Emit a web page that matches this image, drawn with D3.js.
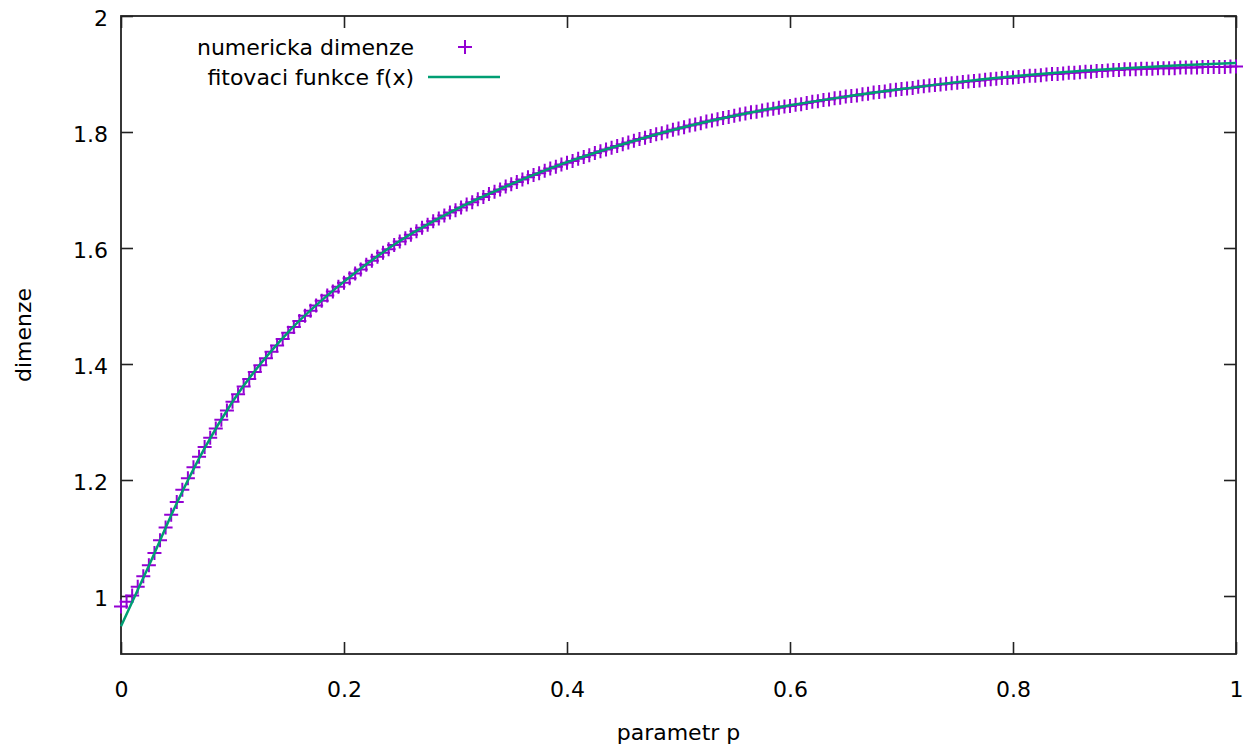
<!DOCTYPE html>
<html>
<head>
<meta charset="utf-8">
<script src="https://cdn.jsdelivr.net/npm/d3@7"></script>
<style>
  html, body { margin: 0; padding: 0; background: #fff; }
  svg { display: block; }
  text { font-family: "DejaVu Sans", Verdana, sans-serif; fill: #000; }
</style>
</head>
<body>
<svg id="chart" width="1243" height="747"></svg>
<script>
// ---- data ----
const pStart = 0;
const pStep = 0.005;
const dimValues = [
  0.982,0.990,1.001,1.016,1.034,1.053,1.074,1.096,1.118,1.140,
  1.162,1.183,1.203,1.222,1.240,1.257,1.273,1.289,1.304,1.320,
  1.335,1.348,1.361,1.374,1.386,1.398,1.410,1.421,1.432,1.443,
  1.454,1.464,1.474,1.483,1.492,1.501,1.509,1.518,1.525,1.533,
  1.540,1.548,1.556,1.563,1.571,1.578,1.585,1.592,1.598,1.605,
  1.611,1.617,1.623,1.629,1.635,1.640,1.646,1.651,1.656,1.661,
  1.665,1.670,1.675,1.679,1.684,1.688,1.693,1.697,1.701,1.706,
  1.710,1.714,1.718,1.722,1.726,1.729,1.733,1.737,1.740,1.744,
  1.747,1.750,1.754,1.757,1.760,1.764,1.767,1.770,1.773,1.776,
  1.779,1.782,1.785,1.788,1.790,1.793,1.796,1.798,1.801,1.804,
  1.806,1.808,1.811,1.813,1.815,1.818,1.820,1.822,1.824,1.826,
  1.828,1.830,1.832,1.834,1.835,1.837,1.839,1.840,1.842,1.844,
  1.845,1.847,1.848,1.850,1.852,1.853,1.855,1.856,1.858,1.859,
  1.861,1.862,1.863,1.865,1.866,1.868,1.869,1.870,1.872,1.873,
  1.874,1.875,1.876,1.878,1.879,1.880,1.881,1.882,1.883,1.884,
  1.885,1.886,1.887,1.888,1.889,1.890,1.891,1.892,1.893,1.893,
  1.894,1.895,1.896,1.897,1.897,1.898,1.899,1.900,1.900,1.901,
  1.902,1.902,1.903,1.904,1.904,1.905,1.905,1.906,1.907,1.907,
  1.908,1.908,1.908,1.909,1.909,1.909,1.910,1.910,1.910,1.910,
  1.911,1.911,1.911,1.911,1.912,1.912,1.912,1.912,1.912,1.913,
  1.913
];
const fitP   = [0, 0.025, 0.05, 0.075, 0.1, 0.15, 0.2, 0.25, 0.3, 0.35, 0.4, 0.45, 0.5, 0.55, 0.6, 0.65, 0.7, 0.75, 0.8, 0.85, 0.9, 0.95, 1.0];
const fitVal = [0.948, 1.052, 1.160, 1.255, 1.335, 1.455, 1.542, 1.612, 1.666, 1.710, 1.748, 1.779, 1.806, 1.828, 1.846, 1.861, 1.874, 1.886, 1.896, 1.904, 1.910, 1.915, 1.919];
const xTicks = [0, 0.2, 0.4, 0.6, 0.8, 1];
const yTicks = [1, 1.2, 1.4, 1.6, 1.8, 2];
const seriesNames = ["numericka dimenze", "fitovaci funkce f(x)"];
const xTitle = "parametr p";
const yTitle = "dimenze";

// ---- layout ----
const L = 121, R = 1236, T = 16, B = 654;
const FS = 22;
const colPts = "#9400D3", colFit = "#009E73";

const svg = d3.select("#chart");
svg.append("rect").attr("width", 1243).attr("height", 747).attr("fill", "#fff");

const x = d3.scaleLinear().domain([0, 1]).range([L, R]);
const y = d3.scaleLinear().domain([0.9, 2]).range([B, T]);
const fmt = d3.format("~g");

function styleAxis(g) {
  g.select(".domain").remove();
  g.selectAll(".tick line").attr("stroke", "#222").attr("stroke-width", 1.6);
  g.selectAll(".tick text").attr("font-size", FS).attr("font-family", "DejaVu Sans, Verdana, sans-serif").attr("fill", "#000");
}

svg.append("g").attr("transform", `translate(0,${B})`)
  .call(d3.axisBottom(x).tickValues(xTicks).tickFormat(fmt).tickSizeInner(-12).tickSizeOuter(0).tickPadding(27))
  .call(styleAxis);
svg.append("g").attr("transform", `translate(0,${T})`)
  .call(d3.axisTop(x).tickValues(xTicks).tickFormat("").tickSizeInner(-12).tickSizeOuter(0))
  .call(styleAxis);
const gl = svg.append("g").attr("transform", `translate(${L},0)`)
  .call(d3.axisLeft(y).tickValues(yTicks).tickFormat(fmt).tickSizeInner(-12).tickSizeOuter(0).tickPadding(13))
  .call(styleAxis);
gl.selectAll(".tick text").attr("dy", "0.45em");
svg.append("g").attr("transform", `translate(${R},0)`)
  .call(d3.axisRight(y).tickValues(yTicks).tickFormat("").tickSizeInner(-12).tickSizeOuter(0))
  .call(styleAxis);

// frame
svg.append("rect").attr("x", L).attr("y", T).attr("width", R - L).attr("height", B - T)
  .attr("fill", "none").attr("stroke", "#222").attr("stroke-width", 1.8);

// axis titles
svg.append("text").attr("x", (L + R) / 2).attr("y", 740).attr("text-anchor", "middle")
  .attr("font-size", FS).text(xTitle);
svg.append("text").attr("transform", `translate(31,${(T + B) / 2}) rotate(-90)`)
  .attr("text-anchor", "middle").attr("font-size", FS).text(yTitle);

// points
const pts = dimValues.map((v, i) => ({ p: pStart + i * pStep, v }));
const cross = "M-7,0H7M0,-7V7";
svg.append("g").selectAll("path").data(pts).join("path")
  .attr("transform", d => `translate(${x(d.p)},${y(d.v)})`)
  .attr("d", cross).attr("stroke", colPts).attr("stroke-width", 2).attr("fill", "none");

// fit line
const fitData = fitP.map((p, i) => ({ p, v: fitVal[i] }));
svg.append("path").datum(fitData)
  .attr("d", d3.line().x(d => x(d.p)).y(d => y(d.v)).curve(d3.curveMonotoneX))
  .attr("fill", "none").attr("stroke", colFit).attr("stroke-width", 2.5);

// legend
const lg = svg.append("g");
lg.append("text").attr("x", 414).attr("y", 55).attr("text-anchor", "end").attr("font-size", FS).text(seriesNames[0]);
lg.append("path").attr("transform", "translate(465,47)").attr("d", cross)
  .attr("stroke", colPts).attr("stroke-width", 2).attr("fill", "none");
lg.append("text").attr("x", 414).attr("y", 85).attr("text-anchor", "end").attr("font-size", FS).text(seriesNames[1]);
lg.append("line").attr("x1", 428).attr("x2", 500).attr("y1", 77).attr("y2", 77)
  .attr("stroke", colFit).attr("stroke-width", 2.5);
</script>
</body>
</html>
